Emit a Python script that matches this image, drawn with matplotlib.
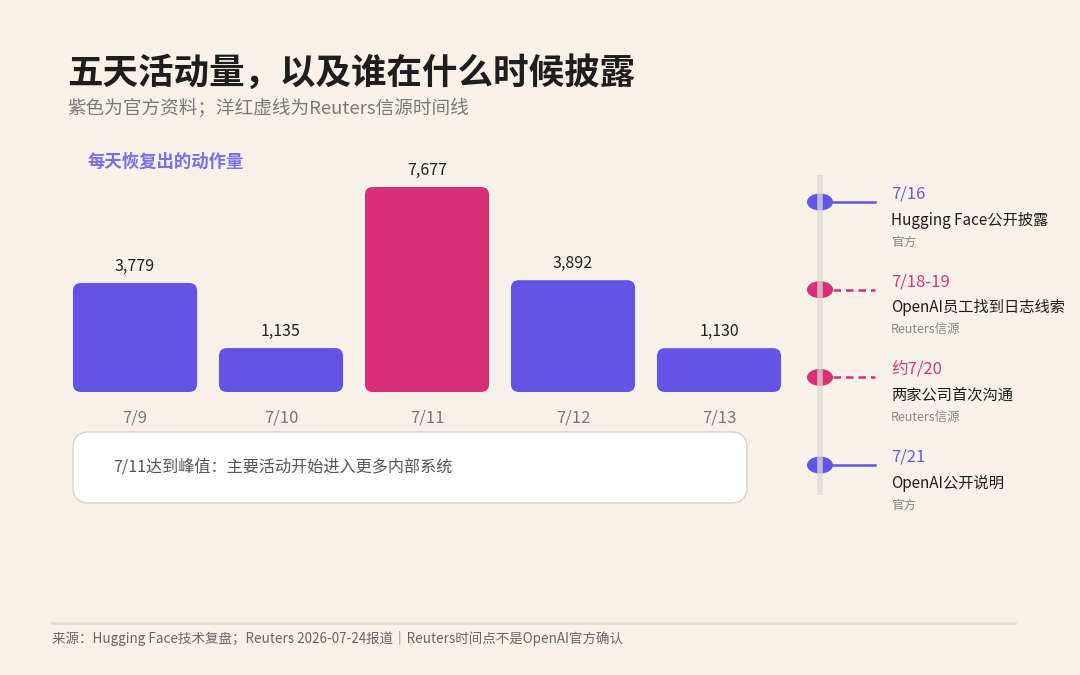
import numpy as np
import matplotlib.pyplot as plt
from matplotlib.patches import FancyBboxPatch, Ellipse

plt.rcParams['font.family'] = ['Noto Sans CJK SC', 'DejaVu Sans']

# data
days = ["7/9", "7/10", "7/11", "7/12", "7/13"]
actions = [3779, 1135, 7677, 3892, 1130]
peak_day = "7/11"

event_dates = ["7/16", "7/18-19", "约7/20", "7/21"]
event_titles = ["Hugging Face公开披露", "OpenAI员工找到日志线索", "两家公司首次沟通", "OpenAI公开说明"]
event_sources = ["官方", "Reuters信源", "Reuters信源", "官方"]
event_official = [True, False, False, True]

BG = "#f6f2ea"
PURPLE = "#6453e4"
MAGENTA = "#d92f76"
W, H = 1080, 675

fig = plt.figure(figsize=(10.8, 6.75), dpi=100, facecolor=BG)

# -----------------------------
# overlay in pixel coords (titles, callout, timeline, footer)
# -----------------------------
ov = fig.add_axes([0, 0, 1, 1], zorder=0)
ov.set_xlim(0, W)
ov.set_ylim(H, 0)
ov.axis("off")

ov.text(67, 73, "五天活动量，以及谁在什么时候披露", fontsize=25.6, fontweight="bold",
        color="#1e1e1e", va="center")
ov.text(67, 108, "紫色为官方资料；洋红虚线为Reuters信源时间线", fontsize=13.4,
        color="#7a7a7a", va="center")
ov.text(88, 162, "每天恢复出的动作量", fontsize=12.5, color="#7b6cf0",
        fontweight="bold", va="center")

# callout box
ov.add_patch(FancyBboxPatch((73, 432), 674, 71, boxstyle="round,pad=0,rounding_size=16",
                            fc="white", ec="#d6d3ce", lw=1))
ov.text(113, 467, f"{peak_day}达到峰值：主要活动开始进入更多内部系统", fontsize=11.6,
        color="#555555", va="center")

# timeline
tl_x, y0, step = 820, 202, 87.7
ov.plot([tl_x, tl_x], [175, 495], color="#dcd9d5", lw=4, alpha=0.75, zorder=4,
        solid_capstyle="butt")
for i, (d, t, s, off) in enumerate(zip(event_dates, event_titles, event_sources, event_official)):
    y = y0 + i * step
    c = PURPLE if off else MAGENTA
    ov.add_patch(Ellipse((tl_x, y), 26, 17, fc=c, ec="none", zorder=3))
    ov.plot([tl_x + 13, 875], [y, y], color=c, lw=1.8, zorder=2,
            linestyle="-" if off else (0, (3, 2)))
    ov.text(891, y - 8, d, fontsize=12, color="#6a5ae0" if off else "#d63a78", va="center")
    ov.text(891, y + 18, t, fontsize=11, color="#1e1e1e", va="center")
    ov.text(891, y + 40, s, fontsize=9, color="#888888", va="center")

# footer
ov.plot([52, 1015], [623, 623], color="#e2dfd9", lw=2)
ov.text(52, 639, "来源：Hugging Face技术复盘；Reuters 2026-07-24报道｜Reuters时间点不是OpenAI官方确认",
        fontsize=9.7, color="#666666", va="center")

# -----------------------------
# bar chart
# -----------------------------
ax = fig.add_axes([62 / W, 1 - 392 / H, 730 / W, 242 / H], zorder=1)
ax.patch.set_alpha(0)
base = 650
colors = [MAGENTA if d == peak_day else PURPLE for d in days]
x = np.arange(len(days))
bars = ax.bar(x, np.array(actions) + base, bottom=-base, width=0.85, color=colors)
ax.set_xlim(-0.5, len(days) - 0.5)
ax.set_ylim(-base, 9180)
ax.axis("off")

p = ax.transData.transform([(0, 0), (1, 1)])
sx, sy = p[1] - p[0]
r = 8 / sx
for b, c in zip(bars, colors):
    b.set_visible(False)
    ax.add_patch(FancyBboxPatch((b.get_x(), b.get_y()), b.get_width(), b.get_height(),
                                boxstyle=f"round,pad=0,rounding_size={r}",
                                mutation_aspect=sx / sy, fc=c, ec="none"))

for xi, v, d in zip(x, actions, days):
    ax.text(xi, v + 17 / sy, f"{v:,}", ha="center", va="center", fontsize=11.5, color="#222222")
    ax.text(xi, -base - 26 / sy, d, ha="center", va="center", fontsize=12,
            color="#777777", clip_on=False)

fig.savefig("out.png", dpi=100, facecolor=BG)
